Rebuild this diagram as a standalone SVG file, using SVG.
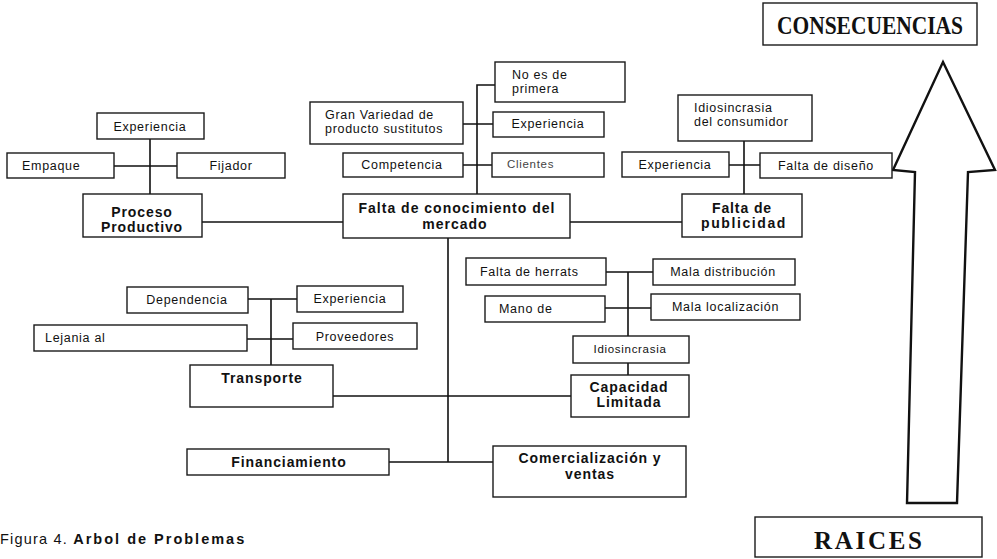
<svg xmlns="http://www.w3.org/2000/svg" width="997" height="559" viewBox="0 0 997 559">
<style>
.box{fill:#fff;stroke:#1a1a1a;stroke-width:1.4}
.t{font-family:"Liberation Sans",Arial,sans-serif;font-size:12.5px;letter-spacing:0.7px;fill:#111}
.b{font-weight:bold;font-size:14px;letter-spacing:0.9px}
.c{text-anchor:middle}
.big{font-family:"Liberation Serif","Times New Roman",serif;font-weight:bold;font-size:25px;fill:#111;text-anchor:middle}
.ln{stroke:#111;stroke-width:1.6;fill:none}
.arrow{fill:#fff;stroke:#111;stroke-width:2.4;stroke-linejoin:miter}
</style>
<rect width="997" height="559" fill="#fff"/>
<g id="connectors">
<path class="ln" d="M150,139V194M114,166H177"/>
<path class="ln" d="M202,222H343"/>
<path class="ln" d="M570,222H682"/>
<path class="ln" d="M477,194V85H495M463,124H493M463,165H492"/>
<path class="ln" d="M744,141V194M729,165H760"/>
<path class="ln" d="M448,238V462M389,462H493"/>
<path class="ln" d="M333,396H571"/>
<path class="ln" d="M271,299V365M248,299H297M247,339H293"/>
<path class="ln" d="M628,272V336M606,272H653M605,308H651M628,363V375"/>
</g>
<g id="arrow"><polygon class="arrow" points="943,62 995,170 968,172 957,503 907,503 915,172 893,170"/></g>
<g id="consecuencias"><rect class="box" x="763" y="3" width="214" height="42"/><text class="big" x="870" y="34" textLength="186" lengthAdjust="spacingAndGlyphs">CONSECUENCIAS</text></g>
<g id="raices"><rect class="box" x="755" y="517" width="227" height="40"/><text class="big" x="868" y="549" textLength="108" lengthAdjust="spacing">RAICES</text></g>
<g id="n1"><rect class="box" x="97" y="113" width="107" height="26"/><text class="t c" x="150" y="131">Experiencia</text></g>
<g id="n2"><rect class="box" x="7" y="153" width="107" height="25"/><text class="t" x="22" y="170">Empaque</text></g>
<g id="n3"><rect class="box" x="177" y="153" width="108" height="25"/><text class="t c" x="231" y="170">Fijador</text></g>
<g id="n4"><rect class="box" x="83" y="194" width="119" height="43"/><text class="t b c" x="142" y="217">Proceso</text><text class="t b c" x="142" y="232">Productivo</text></g>
<g id="n5"><rect class="box" x="310" y="102" width="153" height="42"/><text class="t" x="325" y="119">Gran Variedad de</text><text class="t" x="325" y="133">producto sustitutos</text></g>
<g id="n6"><rect class="box" x="343" y="153" width="120" height="24"/><text class="t c" x="402" y="169">Competencia</text></g>
<g id="n7"><rect class="box" x="495" y="62" width="130" height="40"/><text class="t" x="512" y="79">No es de</text><text class="t" x="512" y="93">primera</text></g>
<g id="n8"><rect class="box" x="493" y="112" width="111" height="25"/><text class="t c" x="548" y="128">Experiencia</text></g>
<g id="n9"><rect class="box" x="492" y="153" width="112" height="24"/><text class="t" x="507" y="168" style="font-size:11.5px;fill:#444">Clientes</text></g>
<g id="n10"><rect class="box" x="343" y="194" width="227" height="44"/><text class="t b c" x="457" y="213" style="letter-spacing:1px">Falta de conocimiento del</text><text class="t b c" x="455" y="229" style="letter-spacing:1px">mercado</text></g>
<g id="n11"><rect class="box" x="678" y="95" width="134" height="46"/><text class="t" x="694" y="112">Idiosincrasia</text><text class="t" x="694" y="126">del consumidor</text></g>
<g id="n12"><rect class="box" x="622" y="152" width="107" height="25"/><text class="t c" x="675" y="169">Experiencia</text></g>
<g id="n13"><rect class="box" x="760" y="153" width="132" height="25"/><text class="t c" x="826" y="170">Falta de diseño</text></g>
<g id="n14"><rect class="box" x="682" y="194" width="120" height="43"/><text class="t b c" x="742" y="213">Falta de</text><text class="t b c" x="744" y="228" style="letter-spacing:1.6px">publicidad</text></g>
<g id="n15"><rect class="box" x="127" y="287" width="121" height="26"/><text class="t c" x="187" y="304">Dependencia</text></g>
<g id="n16"><rect class="box" x="297" y="286" width="106" height="26"/><text class="t c" x="350" y="303">Experiencia</text></g>
<g id="n17"><rect class="box" x="34" y="325" width="213" height="26"/><text class="t" x="45" y="342">Lejania al</text></g>
<g id="n18"><rect class="box" x="293" y="323" width="124" height="26"/><text class="t c" x="355" y="341">Proveedores</text></g>
<g id="n19"><rect class="box" x="190" y="365" width="143" height="42"/><text class="t b c" x="262" y="383">Transporte</text></g>
<g id="n20"><rect class="box" x="466" y="258" width="140" height="27"/><text class="t" x="480" y="276">Falta de herrats</text></g>
<g id="n21"><rect class="box" x="653" y="259" width="142" height="26"/><text class="t c" x="723" y="276">Mala distribución</text></g>
<g id="n22"><rect class="box" x="485" y="296" width="120" height="26"/><text class="t" x="499" y="313">Mano de</text></g>
<g id="n23"><rect class="box" x="651" y="294" width="149" height="26"/><text class="t" x="672" y="311">Mala localización</text></g>
<g id="n24"><rect class="box" x="573" y="336" width="116" height="27"/><text class="t c" x="630" y="353" style="font-size:11.5px">Idiosincrasia</text></g>
<g id="n25"><rect class="box" x="571" y="375" width="118" height="42"/><text class="t b c" x="629" y="392">Capacidad</text><text class="t b c" x="629" y="407">Limitada</text></g>
<g id="n26"><rect class="box" x="187" y="449" width="202" height="26"/><text class="t b c" x="289" y="467">Financiamiento</text></g>
<g id="n27"><rect class="box" x="493" y="446" width="193" height="51"/><text class="t b c" x="590" y="463">Comercialización y</text><text class="t b c" x="590" y="479">ventas</text></g>
<text x="0" y="544" style="font-family:'Liberation Sans',Arial,sans-serif;font-size:14.5px;fill:#111;letter-spacing:1.2px">Figura 4. <tspan style="font-weight:bold;letter-spacing:2px">Arbol de Problemas</tspan></text>
</svg>
